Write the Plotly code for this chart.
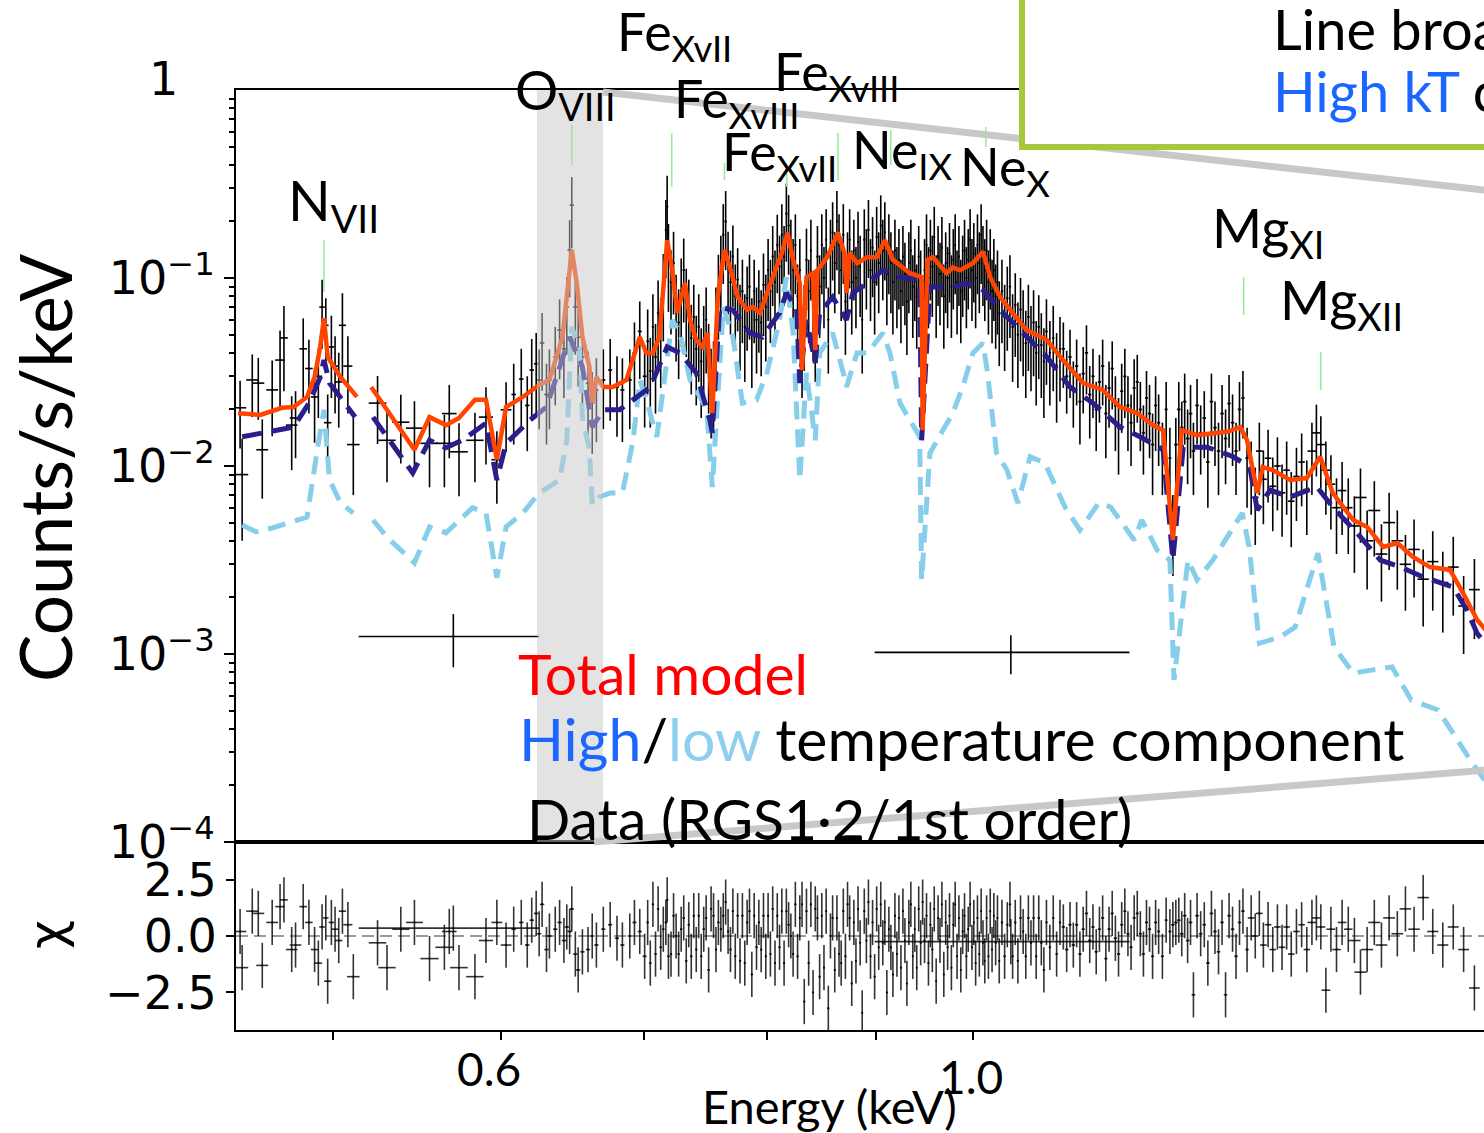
import math
import plotly.graph_objects as go

# ------------------------------------------------------------------ model curves
TOTAL_E = [0.451, 0.462, 0.473, 0.479, 0.486, 0.490, 0.493, 0.495, 0.497, 0.499, 0.504, 0.513, None,
           0.521, 0.546, 0.555, 0.565, 0.573, 0.583, 0.590, 0.597, 0.603, 0.614, 0.625, 0.632, 0.641,
           0.6475, 0.651, 0.655, 0.660, 0.662, 0.665, 0.670, 0.677, 0.687, 0.697, 0.702, 0.707, 0.712,
           0.718, 0.722, 0.726, 0.732, 0.736, 0.741, 0.746, 0.750, 0.754, 0.7585, 0.764, 0.770, 0.775,
           0.783, 0.788, 0.794, 0.805, 0.813, 0.818, 0.823, 0.829, 0.831, 0.835, 0.841, 0.843, 0.845,
           0.854, 0.864, 0.870, 0.872, 0.875, 0.882, 0.892, 0.901, 0.909, 0.917, 0.934, 0.946, 0.947,
           0.952, 0.9575, 0.972, 0.9785, 0.986, 1.000, 1.011, 1.019, 1.030, 1.044, 1.060, 1.0835,
           1.1025, 1.127, 1.151, 1.173, 1.195, 1.2155, 1.229, 1.242, 1.254, 1.275, 1.297, 1.317, 1.336,
           1.346, 1.361, 1.369, 1.384, 1.410, 1.436, 1.457, 1.477, 1.510, 1.533, 1.560, 1.584, 1.611,
           1.641, 1.677, 1.701, 1.727, 1.76]
TOTAL_Y = [0.0191, 0.0187, 0.0204, 0.0206, 0.0233, 0.0297, 0.0430, 0.0612, 0.0380, 0.0353, 0.0297, 0.0233, None,
           0.0263, 0.0122, 0.0182, 0.0165, 0.0180, 0.0225, 0.0225, 0.0108, 0.0206, 0.0233, 0.0270, 0.0287, 0.0485,
           0.141, 0.094, 0.0485, 0.0336, 0.0216, 0.0297, 0.0263, 0.0263, 0.0287, 0.0485, 0.0399, 0.0399, 0.0485,
           0.159, 0.110, 0.0652, 0.094, 0.0598, 0.0468, 0.0430, 0.0510, 0.0191, 0.0792, 0.141, 0.106, 0.0792,
           0.0676, 0.0701, 0.0652, 0.101, 0.136, 0.174, 0.125, 0.094, 0.0324, 0.101, 0.106, 0.0414, 0.110,
           0.129, 0.174, 0.136, 0.0832, 0.136, 0.120, 0.129, 0.129, 0.159, 0.125, 0.106, 0.101, 0.0155,
           0.125, 0.129, 0.106, 0.114, 0.110, 0.120, 0.138, 0.101, 0.0792, 0.0652, 0.0529, 0.0468,
           0.0366, 0.0276, 0.0254, 0.0206, 0.0191, 0.0165, 0.0155, 0.00404, 0.0155, 0.0146, 0.0150, 0.0152, 0.0161,
           0.0137, 0.00718, 0.00988, 0.00952, 0.00843, 0.00863, 0.0112, 0.00718, 0.00516, 0.00474, 0.00371, 0.00389, 0.00328,
           0.00290, 0.00280, 0.00211, 0.00152, 0.00118]

HIGH_E = [0.453, 0.463, 0.479, 0.487, 0.493, 0.495, 0.498, 0.502, 0.512, None, 0.522, 0.545, 0.555, 0.565,
          0.575, 0.590, 0.597, 0.603, 0.619, 0.630, 0.646, 0.655, 0.662, 0.670, 0.682, 0.705, 0.718, 0.728,
          0.741, 0.752, 0.754, 0.760, 0.771, 0.785, 0.796, 0.811, 0.817, 0.826, 0.829, 0.835, 0.843, 0.847,
          0.859, 0.872, 0.878, 0.892, 0.907, 0.924, 0.944, 0.946, 0.9545, 0.975, 0.9935, 1.011, 1.030, 1.056,
          1.0835, 1.111, 1.139, 1.173, 1.1985, 1.229, 1.242, 1.256, 1.289, 1.326, 1.350, 1.361, 1.380, 1.410,
          1.452, 1.477, 1.516, 1.555, 1.589, 1.629, 1.683, 1.708, 1.727, 1.76]
HIGH_Y = [0.0143, 0.0150, 0.0161, 0.0216, 0.0297, 0.0366, 0.0276, 0.0245, 0.0182, None, 0.0182, 0.00918, 0.0137, 0.0125,
          0.0137, 0.0169, 0.00843, 0.0132, 0.0176, 0.0206, 0.0485, 0.0336, 0.0161, 0.0199, 0.0199, 0.0263, 0.0430, 0.0399,
          0.0313, 0.0176, 0.0150, 0.0701, 0.0676, 0.0510, 0.0485, 0.0652, 0.0832, 0.0701, 0.0276, 0.0598, 0.0353, 0.0652,
          0.0792, 0.0598, 0.0832, 0.094, 0.110, 0.101, 0.0976, 0.0137, 0.0895, 0.0895, 0.094, 0.0863, 0.0676, 0.0510,
          0.0380, 0.0263, 0.0216, 0.0161, 0.0143, 0.0122, 0.00316, 0.0126, 0.0126, 0.0112, 0.00988, 0.00583, 0.00745, 0.00684,
          0.00773, 0.00605, 0.00441, 0.00316, 0.00290, 0.00257, 0.00227, 0.00171, 0.00129, 0.00098]

LOW_E = [0.453, 0.460, 0.468, 0.486, 0.492, 0.495, 0.498, 0.504, 0.511, None, 0.522, 0.530, 0.546, 0.555,
         0.565, 0.5815, 0.590, 0.597, 0.603, 0.614, 0.625, 0.639, 0.644, 0.6475, 0.653, 0.655, 0.660, 0.662,
         0.667, 0.675, 0.684, 0.692, 0.697, 0.702, 0.710, 0.718, 0.722, 0.728, 0.736, 0.744, 0.7495, 0.754,
         0.763, 0.771, 0.779, 0.791, 0.800, 0.811, 0.817, 0.823, 0.829, 0.835, 0.843, 0.847, 0.859, 0.869,
         0.872, 0.882, 0.892, 0.907, 0.914, 0.924, 0.934, 0.944, 0.946, 0.9545, 0.968, 0.9785, 0.989, 1.000,
         1.011, 1.016, 1.026, 1.0376, 1.050, 1.064, 1.081, 1.105, 1.123, 1.146, 1.161, 1.191, 1.201, 1.221,
         1.238, 1.2435, 1.2625, 1.275, 1.297, 1.326, 1.339, 1.349, 1.364, 1.395, 1.418, 1.4535, 1.479, 1.510,
         1.575, 1.608, 1.6555, 1.718, 1.76]
LOW_Y = [0.00486, 0.00446, 0.00468, 0.00535, 0.0132, 0.0199, 0.00843, 0.00635, 0.00562, None, 0.00516, 0.00419, 0.00305, 0.00474,
         0.00441, 0.0060, 0.00562, 0.00254, 0.00474, 0.00562, 0.00718, 0.00843, 0.0137, 0.0549, 0.0414, 0.0182, 0.0122, 0.00621,
         0.00684, 0.00718, 0.00718, 0.0137, 0.0287, 0.0225, 0.0143, 0.0399, 0.0598, 0.0510, 0.0287, 0.0233, 0.0199, 0.00773,
         0.0701, 0.0485, 0.0216, 0.0225, 0.0313, 0.0598, 0.101, 0.0510, 0.00843, 0.0313, 0.0137, 0.0399, 0.0510, 0.0313,
         0.0263, 0.0399, 0.0399, 0.0510, 0.0399, 0.0216, 0.0176, 0.0143, 0.00248, 0.0117, 0.0155, 0.0191, 0.0263, 0.0399,
         0.0451, 0.0313, 0.0117, 0.00952, 0.00635, 0.0112, 0.0104, 0.00605, 0.00457, 0.00635, 0.00605, 0.00404, 0.00516, 0.00357,
         0.00316, 0.000727, 0.00316, 0.00248, 0.00316, 0.00474, 0.00562, 0.00371, 0.00114, 0.00123, 0.00139, 0.00344, 0.00109, 0.000792,
         0.000853, 0.000569, 0.000504, 0.000263, 0.00018]

# ------------------------------------------------------------------ data (RGS)
E1 = [0.452, 0.453, 0.458, 0.461, 0.463, 0.468, 0.472, 0.474, 0.478, 0.480, 0.484, 0.487, 0.490, 0.492,
      0.494, 0.496, 0.497, 0.499, 0.501, 0.503, 0.505, 0.508, 0.511]
Y1 = [0.0204, 0.0090, 0.0287, 0.0276, 0.0122, 0.0254, 0.0366, 0.0480, 0.0165, 0.0180, 0.0420, 0.0330, 0.0233, 0.0300,
      0.0700, 0.0560, 0.0170, 0.0430, 0.0340, 0.0280, 0.0560, 0.0340, 0.0130]
YE1 = [0.0080, 0.0050, 0.0105, 0.0100, 0.0055, 0.0110, 0.0160, 0.0230, 0.0070, 0.0070, 0.0190, 0.0140, 0.0100, 0.0120,
       0.0280, 0.0220, 0.0070, 0.0200, 0.0150, 0.0120, 0.0270, 0.0150, 0.0060]
XE1 = [0.0030, 0.0030, 0.0030, 0.0030, 0.0030, 0.0030, 0.0025, 0.0020, 0.0030, 0.0030, 0.0020, 0.0020, 0.0020, 0.0020,
       0.0015, 0.0015, 0.0020, 0.0015, 0.0020, 0.0020, 0.0020, 0.0025, 0.0035]
C1 = [0.2, -1.4, 1.1, 1.0, -1.3, 0.6, 1.3, 1.6, -0.6, -0.4, 1.3, 0.6, -0.6, -1.2,
      0.4, 0.8, -2.0, 0.6, 0.3, -0.2, 1.1, 0.5, -1.8]

E2 = [0.5246, 0.530, 0.538, 0.546, 0.555, 0.564, 0.567, 0.573, 0.583, 0.590, 0.597, 0.603]
Y2 = [0.0216, 0.0137, 0.0171, 0.0159, 0.0132, 0.0132, 0.0190, 0.0119, 0.0137, 0.0182, 0.0108, 0.0199]
YE2 = [0.0085, 0.0055, 0.0068, 0.0062, 0.0055, 0.0055, 0.0080, 0.0050, 0.0055, 0.0080, 0.0045, 0.0080]
XE2 = [0.0050, 0.0050, 0.0050, 0.0050, 0.0055, 0.0055, 0.0045, 0.0055, 0.0055, 0.0045, 0.0035, 0.0035]
C2 = [-0.3, -1.4, 0.3, 0.6, -1.0, -0.5, 0.2, -1.4, -1.8, -0.2, 0.6, -0.4]

E3 = [0.608, 0.613, 0.617, 0.620, 0.623, 0.625, 0.627, 0.630, 0.632, 0.636, 0.639, 0.642, 0.644, 0.646,
      0.6475, 0.650, 0.652, 0.655, 0.659, 0.662, 0.665, 0.670, 0.675, 0.680, 0.684, 0.6895, 0.693, 0.697, 0.7007]
Y3 = [0.0240, 0.0290, 0.0210, 0.0324, 0.0350, 0.0287, 0.0451, 0.0240, 0.0287, 0.0380, 0.0529, 0.0420, 0.0701, 0.141,
      0.244, 0.0701, 0.0485, 0.0380, 0.0276, 0.0216, 0.0254, 0.0287, 0.0324, 0.0263, 0.0254, 0.0287, 0.0400, 0.0520, 0.0300]
YE3 = [0.011, 0.013, 0.009, 0.015, 0.016, 0.013, 0.020, 0.011, 0.013, 0.017, 0.024, 0.019, 0.031, 0.062,
       0.100, 0.031, 0.022, 0.017, 0.013, 0.010, 0.012, 0.013, 0.015, 0.012, 0.012, 0.013, 0.018, 0.023, 0.014]
XE3 = [0.0015, 0.0015, 0.0015, 0.0015, 0.0015, 0.0015, 0.0015, 0.0015, 0.0015, 0.0015, 0.0015, 0.0015, 0.0015, 0.0015,
       0.0015, 0.0015, 0.0015, 0.0015, 0.0015, 0.0015, 0.0015, 0.0015, 0.0015, 0.0015, 0.0015, 0.0015, 0.0015, 0.0015, 0.0015]
C3 = [0.3, 0.6, -0.4, 0.7, 1.0, 0.1, 1.4, -0.6, 0.0, 0.3, 0.6, -0.2, 0.4, 0.2,
      1.2, -0.8, -1.5, -0.7, -0.6, 0.0, -0.4, 0.3, 0.5, -0.1, -0.4, 0.0, 0.6, 0.2, -0.9]

E4 = [0.703, 0.705, 0.707, 0.709, 0.711, 0.713, 0.715, 0.717, 0.718, 0.719,
      0.721, 0.723, 0.725, 0.727, 0.729, 0.731, 0.733, 0.735, 0.737, 0.739,
      0.741, 0.743, 0.745, 0.747, 0.749, 0.751, 0.753, 0.755, 0.757, 0.759,
      0.761, 0.763, 0.765, 0.767, 0.769, 0.771, 0.773, 0.775, 0.777, 0.779,
      0.781, 0.783, 0.785, 0.787, 0.789, 0.791, 0.793, 0.795, 0.797, 0.799,
      0.801, 0.803, 0.805, 0.807, 0.809, 0.811, 0.813, 0.815, 0.817, 0.819,
      0.821, 0.823, 0.825, 0.827, 0.829, 0.831, 0.833, 0.835, 0.837, 0.839,
      0.841, 0.843, 0.845, 0.847, 0.849, 0.851, 0.853, 0.855, 0.857, 0.859,
      0.861, 0.863, 0.865, 0.867, 0.869, 0.871, 0.873, 0.875, 0.877, 0.879,
      0.881, 0.883, 0.885, 0.887, 0.889, 0.891, 0.893, 0.895, 0.897, 0.899,
      0.901, 0.903, 0.905, 0.907, 0.909, 0.911, 0.913, 0.915, 0.917, 0.919,
      0.921, 0.923, 0.925, 0.927, 0.929, 0.931, 0.933, 0.935, 0.937, 0.939,
      0.941, 0.943, 0.945, 0.947, 0.949, 0.951, 0.953, 0.955, 0.957, 0.959,
      0.961, 0.963, 0.965, 0.967, 0.969, 0.971, 0.973, 0.975, 0.977, 0.979,
      0.981, 0.983, 0.985, 0.987, 0.989, 0.991, 0.993, 0.995, 0.997, 0.999,
      1.001, 1.003, 1.005, 1.007, 1.009, 1.011, 1.013, 1.015, 1.017, 1.019,
      1.021, 1.023, 1.025, 1.027, 1.029, 1.032, 1.035, 1.038, 1.041, 1.044,
      1.047, 1.050, 1.053, 1.056, 1.059, 1.062, 1.065, 1.068, 1.071, 1.074,
      1.077, 1.080, 1.083, 1.087, 1.091, 1.095, 1.099]
Y4 = [0.046, 0.032, 0.055, 0.038, 0.065, 0.052, 0.090, 0.180, 0.240, 0.130,
      0.095, 0.120, 0.070, 0.058, 0.085, 0.110, 0.075, 0.066, 0.048, 0.062,
      0.042, 0.055, 0.036, 0.047, 0.060, 0.038, 0.028, 0.030, 0.060, 0.090,
      0.115, 0.170, 0.200, 0.120, 0.095, 0.130, 0.080, 0.098, 0.062, 0.085,
      0.055, 0.078, 0.090, 0.052, 0.085, 0.060, 0.075, 0.058, 0.092, 0.070,
      0.110, 0.085, 0.130, 0.095, 0.150, 0.115, 0.170, 0.130, 0.220, 0.190,
      0.140, 0.110, 0.150, 0.080, 0.110, 0.045, 0.062, 0.125, 0.085, 0.140,
      0.070, 0.055, 0.130, 0.090, 0.150, 0.100, 0.160, 0.060, 0.140, 0.175,
      0.120, 0.200, 0.150, 0.110, 0.170, 0.075, 0.120, 0.160, 0.095, 0.140,
      0.100, 0.155, 0.115, 0.060, 0.160, 0.125, 0.180, 0.110, 0.145, 0.095,
      0.165, 0.120, 0.190, 0.140, 0.175, 0.105, 0.150, 0.120, 0.095, 0.140,
      0.100, 0.125, 0.085, 0.130, 0.105, 0.075, 0.120, 0.140, 0.090, 0.110,
      0.080, 0.130, 0.095, 0.030, 0.110, 0.150, 0.100, 0.140, 0.115, 0.165,
      0.090, 0.130, 0.105, 0.145, 0.080, 0.120, 0.100, 0.135, 0.090, 0.125,
      0.150, 0.095, 0.130, 0.085, 0.115, 0.140, 0.100, 0.125, 0.160, 0.110,
      0.135, 0.100, 0.150, 0.120, 0.170, 0.130, 0.110, 0.140, 0.095, 0.125,
      0.085, 0.110, 0.080, 0.095, 0.065, 0.085, 0.062, 0.078, 0.090, 0.055,
      0.072, 0.050, 0.068, 0.058, 0.045, 0.062, 0.048, 0.058, 0.040, 0.055,
      0.044, 0.036, 0.052, 0.040, 0.048, 0.034, 0.042]
YE4 = [0.022, 0.016, 0.027, 0.019, 0.032, 0.026, 0.044, 0.080, 0.110, 0.064,
       0.045, 0.056, 0.034, 0.029, 0.042, 0.052, 0.037, 0.032, 0.024, 0.030,
       0.021, 0.027, 0.018, 0.024, 0.029, 0.019, 0.014, 0.016, 0.029, 0.043,
       0.053, 0.077, 0.090, 0.056, 0.045, 0.060, 0.038, 0.046, 0.030, 0.040,
       0.027, 0.037, 0.043, 0.026, 0.040, 0.029, 0.035, 0.028, 0.043, 0.034,
       0.051, 0.040, 0.059, 0.045, 0.067, 0.053, 0.077, 0.059, 0.098, 0.086,
       0.064, 0.051, 0.068, 0.038, 0.051, 0.022, 0.030, 0.058, 0.040, 0.064,
       0.034, 0.027, 0.059, 0.042, 0.068, 0.046, 0.072, 0.029, 0.064, 0.078,
       0.055, 0.090, 0.068, 0.051, 0.077, 0.036, 0.055, 0.072, 0.045, 0.064,
       0.046, 0.070, 0.053, 0.029, 0.072, 0.057, 0.080, 0.051, 0.066, 0.045,
       0.074, 0.055, 0.085, 0.064, 0.078, 0.049, 0.068, 0.055, 0.045, 0.064,
       0.046, 0.057, 0.040, 0.059, 0.049, 0.036, 0.055, 0.064, 0.042, 0.051,
       0.038, 0.059, 0.045, 0.015, 0.051, 0.068, 0.046, 0.064, 0.053, 0.074,
       0.042, 0.059, 0.049, 0.066, 0.038, 0.055, 0.046, 0.061, 0.042, 0.057,
       0.068, 0.045, 0.059, 0.040, 0.053, 0.064, 0.046, 0.057, 0.072, 0.051,
       0.061, 0.046, 0.068, 0.055, 0.077, 0.059, 0.051, 0.064, 0.045, 0.057,
       0.040, 0.051, 0.038, 0.045, 0.031, 0.040, 0.030, 0.037, 0.042, 0.027,
       0.034, 0.024, 0.032, 0.028, 0.022, 0.030, 0.023, 0.028, 0.019, 0.026,
       0.021, 0.018, 0.025, 0.019, 0.023, 0.017, 0.020]
XE4 = [0.0009, 0.0009, 0.0009, 0.0009, 0.0009, 0.0009, 0.0009, 0.0009, 0.0009, 0.0009,
       0.0009, 0.0009, 0.0009, 0.0009, 0.0009, 0.0009, 0.0009, 0.0009, 0.0009, 0.0009,
       0.0009, 0.0009, 0.0009, 0.0009, 0.0009, 0.0009, 0.0009, 0.0009, 0.0009, 0.0009,
       0.0009, 0.0009, 0.0009, 0.0009, 0.0009, 0.0009, 0.0009, 0.0009, 0.0009, 0.0009,
       0.0009, 0.0009, 0.0009, 0.0009, 0.0009, 0.0009, 0.0009, 0.0009, 0.0009, 0.0009,
       0.0009, 0.0009, 0.0009, 0.0009, 0.0009, 0.0009, 0.0009, 0.0009, 0.0009, 0.0009,
       0.0009, 0.0009, 0.0009, 0.0009, 0.0009, 0.0009, 0.0009, 0.0009, 0.0009, 0.0009,
       0.0009, 0.0009, 0.0009, 0.0009, 0.0009, 0.0009, 0.0009, 0.0009, 0.0009, 0.0009,
       0.0009, 0.0009, 0.0009, 0.0009, 0.0009, 0.0009, 0.0009, 0.0009, 0.0009, 0.0009,
       0.0009, 0.0009, 0.0009, 0.0009, 0.0009, 0.0009, 0.0009, 0.0009, 0.0009, 0.0009,
       0.0009, 0.0009, 0.0009, 0.0009, 0.0009, 0.0009, 0.0009, 0.0009, 0.0009, 0.0009,
       0.0009, 0.0009, 0.0009, 0.0009, 0.0009, 0.0009, 0.0009, 0.0009, 0.0009, 0.0009,
       0.0009, 0.0009, 0.0009, 0.0009, 0.0009, 0.0009, 0.0009, 0.0009, 0.0009, 0.0009,
       0.0009, 0.0009, 0.0009, 0.0009, 0.0009, 0.0009, 0.0009, 0.0009, 0.0009, 0.0009,
       0.0009, 0.0009, 0.0009, 0.0009, 0.0009, 0.0009, 0.0009, 0.0009, 0.0009, 0.0009,
       0.0009, 0.0009, 0.0009, 0.0009, 0.0009, 0.0009, 0.0009, 0.0009, 0.0009, 0.0009,
       0.0009, 0.0009, 0.0009, 0.0009, 0.0009, 0.0013, 0.0013, 0.0013, 0.0013, 0.0013,
       0.0013, 0.0013, 0.0013, 0.0013, 0.0013, 0.0013, 0.0013, 0.0013, 0.0013, 0.0013,
       0.0013, 0.0013, 0.0013, 0.0013, 0.0013, 0.0013, 0.0013]
C4 = [0.6, -1.2, 1.4, -0.8, 1.2, -0.5, 0.3, 0.6, 1.6, -0.9,
      -0.8, 0.9, 0.0, -0.8, 0.3, 0.8, -1.1, 0.5, -0.9, 0.9,
      -0.6, 0.9, -0.9, 0.3, 0.8, -1.5, 1.2, 0.9, -0.6, 0.6,
      0.3, 0.9, 1.5, 0.2, -0.6, 1.1, -0.9, 0.9, -1.1, 0.9,
      -1.2, 0.6, 1.1, -1.7, 0.9, -0.5, 0.6, -0.6, 0.9, -0.9,
      0.9, -0.8, 1.2, -1.2, 0.9, -0.5, 1.1, -1.2, 1.1, 0.5,
      0.0, -0.8, 1.4, -0.9, 0.8, 1.4, -2.9, 1.1, -1.2, 1.4,
      -2.5, 1.2, 0.8, -1.8, 0.9, -1.4, 1.1, -3.2, 0.0, 0.8,
      -1.5, 0.8, -0.8, -1.2, 1.1, -0.9, 1.4, 0.8, -2.1, 0.6,
      -1.1, 1.2, -0.3, -3.4, 1.1, -0.2, 1.5, -0.9, 0.6, -1.8,
      1.2, -0.5, 1.4, -0.3, 0.6, -2.5, 0.3, -0.5, -1.7, 0.9,
      -0.8, 0.8, -1.4, 1.1, -0.2, -2.1, 0.6, 1.4, -0.9, 0.3,
      -1.4, 1.2, -0.3, 1.5, -0.2, 0.9, -1.2, 0.5, -0.6, 1.2,
      -2.0, 0.8, -0.2, 1.4, -1.7, 0.6, -0.5, 0.9, -1.4, 0.5,
      1.4, -0.9, 0.8, -1.5, 0.2, 0.9, -0.9, 0.3, 1.4, -0.5,
      0.6, -1.2, 0.8, -0.8, 1.1, -0.3, -1.1, 0.8, -0.9, 1.1,
      -0.6, 0.9, -0.3, 0.8, -1.1, 0.6, -0.9, 0.5, 1.4, -0.9,
      0.6, -1.1, 0.8, 0.2, -0.9, 0.8, -0.3, 0.8, -0.9, 0.8,
      -0.3, -1.5, 0.6, -0.5, 0.8, -0.8, 0.6]

E5 = [1.103, 1.107, 1.111, 1.115, 1.119, 1.123, 1.127, 1.131, 1.135, 1.139,
      1.143, 1.147, 1.151, 1.155, 1.159, 1.163, 1.167, 1.171, 1.175, 1.179,
      1.183, 1.187, 1.191, 1.195, 1.199, 1.203, 1.207, 1.211, 1.215, 1.219,
      1.223, 1.228, 1.233, 1.238, 1.242, 1.246, 1.250, 1.254, 1.258, 1.262,
      1.266, 1.270, 1.275, 1.280, 1.285, 1.290, 1.295, 1.300, 1.305, 1.310,
      1.315, 1.320, 1.325, 1.330, 1.335, 1.340, 1.346, 1.352, 1.358, 1.364,
      1.370, 1.377, 1.384, 1.391, 1.398, 1.405, 1.412, 1.420, 1.428, 1.436,
      1.444, 1.451, 1.458, 1.466, 1.474, 1.483, 1.492, 1.502, 1.512, 1.522,
      1.533, 1.545, 1.557, 1.570, 1.584, 1.598, 1.613, 1.629, 1.646, 1.664,
      1.683, 1.702, 1.722]
Y5 = [0.042, 0.030, 0.038, 0.026, 0.034, 0.022, 0.031, 0.040, 0.024, 0.030,
      0.020, 0.028, 0.034, 0.019, 0.026, 0.033, 0.021, 0.016, 0.025, 0.030,
      0.021, 0.017, 0.026, 0.028, 0.020, 0.015, 0.023, 0.019, 0.013, 0.021,
      0.017, 0.012, 0.020, 0.011, 0.0048, 0.013, 0.020, 0.016, 0.022, 0.014,
      0.019, 0.012, 0.021, 0.015, 0.018, 0.0105, 0.022, 0.016, 0.012, 0.019,
      0.014, 0.0215, 0.017, 0.012, 0.020, 0.023, 0.011, 0.0095, 0.0068, 0.0120,
      0.0085, 0.0110, 0.0078, 0.0100, 0.0072, 0.0095, 0.0065, 0.0088, 0.0105, 0.0075,
      0.0120, 0.0150, 0.0130, 0.0095, 0.0080, 0.0060, 0.0074, 0.0060, 0.0048, 0.0068,
      0.0040, 0.0058, 0.0034, 0.0050, 0.0040, 0.0030, 0.0036, 0.0025, 0.0031, 0.0024,
      0.0029, 0.0018, 0.0022]
YE5 = [0.016, 0.011, 0.015, 0.010, 0.013, 0.009, 0.012, 0.016, 0.010, 0.012,
       0.008, 0.011, 0.013, 0.008, 0.010, 0.013, 0.009, 0.007, 0.010, 0.012,
       0.009, 0.007, 0.011, 0.011, 0.008, 0.006, 0.009, 0.008, 0.006, 0.009,
       0.007, 0.005, 0.008, 0.005, 0.0022, 0.005, 0.008, 0.006, 0.009, 0.006,
       0.008, 0.005, 0.008, 0.006, 0.007, 0.0045, 0.009, 0.006, 0.005, 0.008,
       0.006, 0.009, 0.007, 0.005, 0.008, 0.009, 0.005, 0.0040, 0.0030, 0.0050,
       0.0036, 0.0046, 0.0033, 0.0042, 0.0030, 0.0040, 0.0028, 0.0037, 0.0044, 0.0032,
       0.0050, 0.0062, 0.0054, 0.0040, 0.0034, 0.0026, 0.0031, 0.0026, 0.0021, 0.0029,
       0.0018, 0.0025, 0.0015, 0.0022, 0.0018, 0.0013, 0.0016, 0.0011, 0.0014, 0.0011,
       0.0013, 0.0008, 0.0010]
XE5 = [0.002, 0.002, 0.002, 0.002, 0.002, 0.002, 0.002, 0.002, 0.002, 0.002,
       0.002, 0.002, 0.002, 0.002, 0.002, 0.002, 0.002, 0.002, 0.002, 0.002,
       0.002, 0.002, 0.002, 0.002, 0.002, 0.002, 0.002, 0.002, 0.002, 0.002,
       0.002, 0.002, 0.002, 0.002, 0.0025, 0.0025, 0.0025, 0.0025, 0.0025, 0.0025,
       0.0025, 0.0025, 0.0025, 0.0025, 0.0025, 0.0025, 0.0025, 0.0025, 0.0025, 0.0025,
       0.0025, 0.0025, 0.0025, 0.0025, 0.0025, 0.0025, 0.0025, 0.005, 0.005, 0.005,
       0.005, 0.005, 0.005, 0.005, 0.005, 0.005, 0.005, 0.005, 0.005, 0.005,
       0.007, 0.007, 0.007, 0.007, 0.007, 0.007, 0.007, 0.007, 0.010, 0.010,
       0.010, 0.010, 0.010, 0.010, 0.010, 0.010, 0.010, 0.010, 0.010, 0.010,
       0.010, 0.010, 0.010]
C5 = [0.4, -0.6, 0.5, -0.4, 0.5, -0.8, 0.3, 1.0, -0.2, 0.4,
      -0.7, 0.3, 0.8, -1.0, 0.3, 1.0, -0.1, -0.8, 0.5, 1.1,
      0.1, -0.5, 0.8, 1.0, 0.1, -0.8, 0.6, 0.3, -0.9, 0.6,
      0.2, -0.9, 0.7, 0.2, 0.5, 0.6, 0.7, 0.1, 0.9, -0.2,
      0.6, -2.6, 0.9, 0.1, 0.5, -1.2, 1.0, 0.2, -0.7, 0.6,
      -2.6, 0.9, 0.3, -0.9, 0.6, 1.1, -0.6, 0.8, 0.0, 1.0,
      -0.4, 0.5, -0.6, 0.4, -0.5, 0.4, -0.8, 0.2, 0.5, -0.6,
      0.6, 0.8, 0.4, -2.4, 0.3, -0.6, 0.6, 0.3, -0.2, -1.6,
      -0.6, 0.6, -0.4, 0.8, 0.1, 1.2, 0.3, 1.7, 0.2, -0.4,
      0.4, -0.6, -2.3]

# two very wide, low-count bins
WIDE_E = [0.5695, 1.042]
WIDE_Y = [0.00124, 0.00102]
WIDE_YERR = [0.00039, 0.00024]
WIDE_XERR = [0.0555, 0.143]
WIDE_CHI = [0.35, -0.25]

# emission-line markers (energy, top, bottom)
LINE_E = [0.495, 0.6475, 0.7216, 0.764, 0.8174, 0.864, 0.9149, 1.0142, 1.341, 1.458]
LINE_TOP = [0.159, 0.652, 0.590, 0.409, 0.375, 0.590, 0.613, 0.636, 0.101, 0.0404]
LINE_BOT = [0.0843, 0.399, 0.305, 0.332, 0.305, 0.332, 0.399, 0.497, 0.0636, 0.0254]

Y_TICKVALS = [1e-4, 1e-3, 1e-2, 1e-1]
Y_TICKTEXT = ["10<sup>−4</sup>", "10<sup>−3</sup>", "10<sup>−2</sup>", "10<sup>−1</sup>"]
CHI_TICKVALS = [-2.5, 0.0, 2.5]
CHI_TICKTEXT = ["−2.5", "0.0", "2.5"]
X_TICKVALS = [0.5, 0.6, 0.7, 0.8, 0.9, 1.0]

# ------------------------------------------------------------------ assemble
DATA_E = E1 + E2 + E3 + E4 + E5
DATA_Y = Y1 + Y2 + Y3 + Y4 + Y5
DATA_YERR = YE1 + YE2 + YE3 + YE4 + YE5
DATA_XERR = XE1 + XE2 + XE3 + XE4 + XE5
DATA_CHI = C1 + C2 + C3 + C4 + C5

W, H = 1484, 1133
ML, MR, MT, MB = 236, 0, 90, 103
PW = W - ML - MR
PH = H - MT - MB


def fx(p):
    return (p - ML) / PW


def fy(p):
    return (H - MB - p) / PH


fig = go.Figure()

ek = dict(type="data", color="black", thickness=1.6, width=0)
fig.add_trace(go.Scatter(x=DATA_E, y=DATA_Y, mode="markers", marker=dict(size=2, color="black"),
                         error_y=dict(array=DATA_YERR, **ek), error_x=dict(array=DATA_XERR, **ek),
                         xaxis="x", yaxis="y", hoverinfo="skip"))
fig.add_trace(go.Scatter(x=WIDE_E, y=WIDE_Y, mode="markers", marker=dict(size=2, color="black"),
                         error_y=dict(array=WIDE_YERR, **ek), error_x=dict(array=WIDE_XERR, **ek),
                         xaxis="x", yaxis="y", hoverinfo="skip"))

fig.add_trace(go.Scatter(x=LOW_E, y=LOW_Y, mode="lines", connectgaps=False,
                         line=dict(color="#87CEEB", width=5, dash="18px,10px"), xaxis="x", yaxis="y"))
fig.add_trace(go.Scatter(x=HIGH_E, y=HIGH_Y, mode="lines", connectgaps=False,
                         line=dict(color="#2A1E8C", width=5, dash="20px,10px"), xaxis="x", yaxis="y"))
fig.add_trace(go.Scatter(x=TOTAL_E, y=TOTAL_Y, mode="lines", connectgaps=False,
                         line=dict(color="#FF4500", width=4.5), xaxis="x", yaxis="y"))

gx, gy = [], []
for e, t, b in zip(LINE_E, LINE_TOP, LINE_BOT):
    gx += [e, e, None]
    gy += [t, b, None]
fig.add_trace(go.Scatter(x=gx, y=gy, mode="lines", line=dict(color="#90EE90", width=1.5),
                         xaxis="x", yaxis="y"))

RC = "rgba(0,0,0,0.8)"
rk = dict(color=RC, thickness=1.6, width=0)
fig.add_trace(go.Scatter(x=DATA_E, y=DATA_CHI, mode="markers", marker=dict(size=2, color=RC),
                         error_y=dict(type="constant", value=1, **rk),
                         error_x=dict(type="data", array=DATA_XERR, **rk),
                         xaxis="x2", yaxis="y2", hoverinfo="skip"))
fig.add_trace(go.Scatter(x=WIDE_E, y=WIDE_CHI, mode="markers", marker=dict(size=2, color=RC),
                         error_y=dict(type="constant", value=1, **rk),
                         error_x=dict(type="data", array=WIDE_XERR, **rk),
                         xaxis="x2", yaxis="y2", hoverinfo="skip"))

MINOR = [m * 10.0 ** k for k in range(-4, 0) for m in range(2, 10)]
xr = [math.log10(0.450), math.log10(1.740)]
ax = dict(showgrid=False, zeroline=False, showline=True, linecolor="black", linewidth=2)
tickfont = dict(family="DejaVu Sans", size=46, color="black")

fig.update_layout(
    width=W, height=H, margin=dict(l=ML, r=MR, t=MT, b=MB, autoexpand=False),
    paper_bgcolor="white", plot_bgcolor="white", showlegend=False,
    xaxis=dict(type="log", range=xr, domain=[0, 1], anchor="y", showticklabels=False, ticks="",
               mirror=True, matches="x2", **ax),
    yaxis=dict(type="log", range=[-4, 0], domain=[0.2, 1], anchor="x", tickmode="array",
               tickvals=Y_TICKVALS, ticktext=Y_TICKTEXT, ticks="outside", ticklen=10, tickwidth=2,
               tickcolor="black", tickfont=tickfont,
               minor=dict(tickmode="array", tickvals=MINOR, ticks="outside", ticklen=5, tickwidth=1.5,
                          tickcolor="black"), **ax),
    xaxis2=dict(type="log", range=xr, domain=[0, 1], anchor="y2", tickmode="array", tickvals=X_TICKVALS,
                showticklabels=False, ticks="outside", ticklen=8, tickwidth=2, tickcolor="black",
                mirror=True, **ax),
    yaxis2=dict(range=[-4.16, 4.16], domain=[0, 0.2], anchor="x2", tickmode="array", tickvals=CHI_TICKVALS,
                ticktext=CHI_TICKTEXT, ticks="outside", ticklen=8, tickwidth=2, tickcolor="black",
                tickfont=tickfont, **ax),
)

shapes = [
    dict(type="line", xref="x2 domain", yref="y2", x0=0, x1=1, y0=0, y1=0,
         line=dict(color="#9A9A9A", width=2, dash="12px,6px"), layer="below"),
    dict(type="rect", xref="paper", yref="paper", x0=fx(537), x1=fx(603), y0=fy(842), y1=fy(90),
         fillcolor="rgba(200,200,200,0.5)", line=dict(width=0), layer="above"),
    dict(type="line", xref="paper", yref="paper", x0=fx(603), y0=fy(92), x1=fx(1600), y1=fy(203),
         line=dict(color="#C8C8C8", width=7), layer="above"),
    dict(type="line", xref="paper", yref="paper", x0=fx(594), y0=fy(842), x1=fx(1600), y1=fy(761),
         line=dict(color="#C8C8C8", width=7), layer="above"),
    dict(type="rect", xref="paper", yref="paper", x0=fx(1022), x1=fx(1750), y0=fy(147), y1=fy(-80),
         fillcolor="white", line=dict(color="#A8C83C", width=6), layer="above"),
]
fig.update_layout(shapes=shapes)


def txt(s, x, y, size, color="black", family="Lato", xa="left", ya="middle", angle=0):
    return dict(text=s, x=fx(x), y=fy(y), xref="paper", yref="paper", xanchor=xa, yanchor=ya,
                showarrow=False, textangle=angle, font=dict(family=family, size=size, color=color))


BLUE = "#1A66FF"
LIGHT = "#8ECFEF"
anns = [
    txt("N<sub>VII</sub>", 286, 203, 56),
    txt("O<sub>VIII</sub>", 513, 93, 54),
    txt("Fe<sub>XvII</sub>", 615, 35, 52),
    txt("Fe<sub>XvIII</sub>", 672, 102, 52),
    txt("Fe<sub>XvIII</sub>", 772, 75, 52),
    txt("Fe<sub>XvII</sub>", 720, 155, 52),
    txt("Ne<sub>IX</sub>", 850, 153, 52),
    txt("Ne<sub>X</sub>", 958, 170, 52),
    txt("Mg<sub>XI</sub>", 1210, 231, 54),
    txt("Mg<sub>XII</sub>", 1278, 303, 54),
    txt("Total model", 516, 673, 57, color="#FF0000"),
    txt("<span style='color:%s'>High</span>/<span style='color:%s'>low</span> temperature component" % (BLUE, LIGHT),
        517, 738, 59),
    txt("Data (RGS1·2/1st order)", 525, 818, 57),
    txt("Line broadening", 1271, 29, 56),
    txt("<span style='color:%s'>High kT</span> component" % BLUE, 1271, 90, 56),
    txt("Counts/s/keV", 44, 468, 71, xa="center", angle=-90),
    txt("χ", 47, 935, 50, family="DejaVu Sans", xa="center", angle=-90),
    txt("Energy (keV)", 829, 1106, 47, xa="center"),
    txt("0.6", 489, 1068, 46, xa="center"),
    txt("1.0", 971, 1076, 46, xa="center"),
    txt("1", 163, 79, 46, family="DejaVu Sans", xa="center"),
]
fig.update_layout(annotations=anns)

fig.write_html("out.html", config={"displayModeBar": False},
               post_script="document.body.style.margin='0';document.body.style.overflow='hidden';")
